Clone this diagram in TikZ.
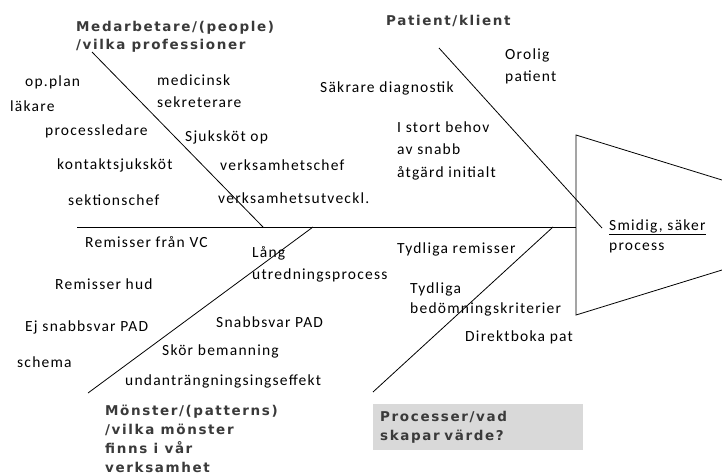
\documentclass[tikz,border=0pt]{standalone}
\usepackage{fontspec}
\newfontfamily\bodyf{Carlito}[LetterSpace=8]
\newfontfamily\labf{DejaVu Sans}[LetterSpace=12]
\definecolor{labgray}{HTML}{3A3A3A}
\definecolor{boxgray}{HTML}{D9D9D9}
\begin{document}
\begin{tikzpicture}[x=1pt,y=-1pt,
  bone/.style={line width=0.8pt,black},
  item/.style={anchor=base west,inner sep=0pt,align=left,font=\bodyf\fontsize{15.5}{21.5}\selectfont},
  cat/.style={anchor=base west,inner sep=0pt,align=left,text=labgray,font=\labf\bfseries\fontsize{13.5}{18.5}\selectfont}]
\useasboundingbox (0,0) rectangle (722,475);
% head
\coordinate (hT) at (576,135);
\coordinate (hB) at (576,315);
\coordinate (hTR) at (722,180);
\coordinate (hBR) at (722,270);
\draw[bone] (hTR) -- (hT) -- (hB) -- (hBR);
% spine
\coordinate (sL) at (77,227);
\draw[bone] (sL) -- (hT |- sL);
% bones
\coordinate (m1) at (92,52);   \coordinate (m2) at (263,227);
\coordinate (p1) at (439,48);  \coordinate (p2) at (602,228);
\coordinate (n1) at (88,393);  \coordinate (n2) at (313,227);
\coordinate (r1) at (373,392); \coordinate (r2) at (553,227);
\draw[bone] (m1) -- (m2);
\draw[bone] (p1) -- (p2);
\draw[bone] (n1) -- (n2);
\draw[bone] (r1) -- (r2);
% category labels (base = last line)
\node[cat,font=\labf\bfseries\fontsize{13.5}{17.5}\selectfont] (cMed) at (76,49) {Medarbetare/(people)\\/vilka professioner};
\node[cat] (cPat) at (386,25) {Patient/klient};
\node[cat,font=\labf\bfseries\fontsize{13.5}{19}\selectfont] (cMon) at (105,472) {Mönster/(patterns)\\/vilka mönster\\finns i vår\\verksamhet};
\node[anchor=north west,fill=boxgray,minimum width=210pt,minimum height=46pt,
      inner xsep=7pt,inner ysep=0pt,text width=196pt,align=left,text=labgray,
      font=\labf\bfseries\fontsize{13.5}{19}\selectfont] (cPro) at (373,404) {Processer/vad\\skapar värde?};
% items (base = last line)
\node[item] (i1) at (25,86) {op.plan};
\node[item] (i2) at (10,111) {läkare};
\node[item] (i3) at (45,135) {processledare};
\node[item] (i4) at (57,169) {kontaktsjuksköt};
\node[item] (i5) at (68,205) {sektionschef};
\node[item] (i6) at (157,107) {medicinsk\\sekreterare};
\node[item] (i7) at (185,141) {Sjuksköt op};
\node[item] (i8) at (220,170) {verksamhetschef};
\node[item] (i9) at (218,203) {verksamhetsutveckl.};
\node[item] (i10) at (320,92) {Säkrare diagnostik};
\node[item] (i11) at (505,81) {Orolig\\patient};
\node[item,font=\bodyf\fontsize{15.5}{22.5}\selectfont] (i12) at (397,177) {I stort behov\\av snabb\\åtgärd initialt};
\node[item,font=\bodyf\fontsize{15.5}{20}\selectfont] (i13) at (609,250) {\underline{Smidig, säker}\\process};
\node[item] (i14) at (85,247) {Remisser från VC};
\node[item,font=\bodyf\fontsize{15.5}{22}\selectfont] (i15) at (252,279) {Lång\\utredningsprocess};
\node[item] (i16) at (55,289) {Remisser hud};
\node[item] (i17) at (25,331) {Ej snabbsvar PAD};
\node[item] (i18) at (17,367) {schema};
\node[item] (i19) at (216,327) {Snabbsvar PAD};
\node[item] (i20) at (162,355) {Skör bemanning};
\node[item] (i21) at (125,385) {undanträngningsingseffekt};
\node[item] (i22) at (397,253) {Tydliga remisser};
\node[item,font=\bodyf\fontsize{15.5}{20}\selectfont] (i23) at (410,313) {Tydliga\\bedömningskriterier};
\node[item] (i24) at (465,341) {Direktboka pat};
\end{tikzpicture}
\end{document}
